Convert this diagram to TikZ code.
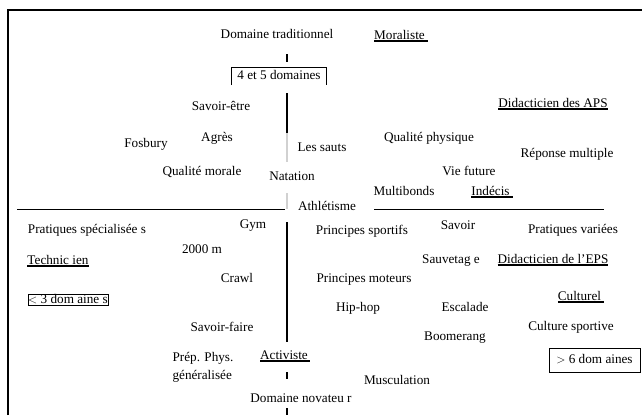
\documentclass[tikz,border=0pt]{standalone}
\usepackage{fontspec}
\setmainfont{Liberation Serif}

\newcommand{\souligne}[1]{\setbox0\hbox{#1}\rlap{\rule[-2.6pt]{\wd0}{1.2pt}}\box0}

\tikzset{
	mot/.style={inner sep=0pt, text height=9pt, text depth=3pt},
	cadre/.style={draw, line width=0.8pt, inner sep=0pt, text height=9pt, text depth=3pt},
	axe/.style={line width=1.1pt},
	axepale/.style={line width=1.1pt, black!18},
}

\begin{document}
\begin{tikzpicture}[x=1pt, y=-1pt, every node/.style={font=\fontsize{13.2}{18}\selectfont}]
		\useasboundingbox (0,0) rectangle (642,415);

		% Frame and axes
		\draw[line width=1.3pt] (8,415) -- (8,10) -- (642,10);
		\draw[axe] (287,54) -- (287,62);
		\draw[axe] (287,93) -- (287,133);
		\draw[axepale] (287,133) -- (287,162);
		\draw[axepale] (287,193) -- (287,209);
		\draw[axe] (287,222) -- (287,342);
		\draw[axe] (287,372) -- (287,379);
		\draw[axe] (287,408) -- (287,415);
		\draw[line width=0.9pt] (17,209) -- (285,209);
		\draw[line width=0.9pt] (374,209) -- (604,209);

		% Upper half
		\node[mot] (dt) at (277,35) {Domaine traditionnel};
		\node[mot] (mor) at (401,36) {\souligne{Moraliste\kern3pt}};
		\node[mot, minimum width=94pt, minimum height=17pt] (b45) at (279,76.5) {4 et 5 domaines};
		\draw[line width=0.8pt] (b45.south west) -- (b45.north west) -- (b45.north east) -- (b45.south east);
		\node[mot] (sav) at (221,107) {Savoir-être};
		\node[mot] (dapes) at (553,104) {\souligne{Didacticien des APS}};
		\node[mot] (fos) at (146,144) {Fosbury};
		\node[mot] (agr) at (217,138) {Agrès};
		\node[mot] (saut) at (322,148) {Les sauts};
		\node[mot] (qph) at (429,138) {Qualité physique};
		\node[mot] (rep) at (567,154) {Réponse multiple};
		\node[mot] (qmo) at (202,172) {Qualité morale};
		\node[mot] (nat) at (292,177) {Natation};
		\node[mot] (vie) at (469,172) {Vie future};
		\node[mot] (mul) at (404,192) {Multibonds};
		\node[mot] (ind) at (492,192) {\souligne{Indécis\kern3pt}};
		\node[mot] (ath) at (327,207) {Athlétisme};

		% Lower half
		\node[mot] (pspe) at (87,230) {Pratiques spécialisée s};
		\node[mot] (gym) at (253,225) {Gym};
		\node[mot] (pspo) at (362,231) {Principes sportifs};
		\node[mot] (savr) at (458,226) {Savoir};
		\node[mot] (pvar) at (573,230) {Pratiques variées};
		\node[mot] (m2000) at (202,250) {2000 m};
		\node[mot] (tech) at (58,261) {\souligne{Technic ien}};
		\node[mot] (sauv) at (451,260) {Sauvetag e};
		\node[mot] (deps) at (553,260) {\souligne{Didacticien de l’EPS}};
		\node[mot] (crawl) at (237,279) {Crawl};
		\node[mot] (pmot) at (364,279) {Principes moteurs};
		\node[cadre, text height=9pt, text depth=2pt, minimum width=80pt] (moins3) at (68,300) {$<$ 3 dom aine s};
		\node[mot] (cult) at (581,297) {\souligne{Culturel\kern3pt}};
		\node[mot] (hip) at (358,308) {Hip-hop};
		\node[mot] (esc) at (465,308) {Escalade};
		\node[mot] (savf) at (222,328) {Savoir-faire};
		\node[mot] (csp) at (571,327) {Culture sportive};
		\node[mot] (boom) at (455,337) {Boomerang};
		\node[cadre, minimum width=91pt, minimum height=24pt] (plus6) at (594.5,360) {$>$ 6 dom aines};
		\node[mot, align=left, text height=, text depth=] (prep) at (203,367) {Prép. Phys.\\généralisée};
		\node[mot] (act) at (285,356) {\souligne{Activiste\kern2pt}};
		\node[mot] (musc) at (397,381) {Musculation};
		\node[mot] (dn) at (301,399) {Domaine novateu r};
	\end{tikzpicture}
\end{document}
